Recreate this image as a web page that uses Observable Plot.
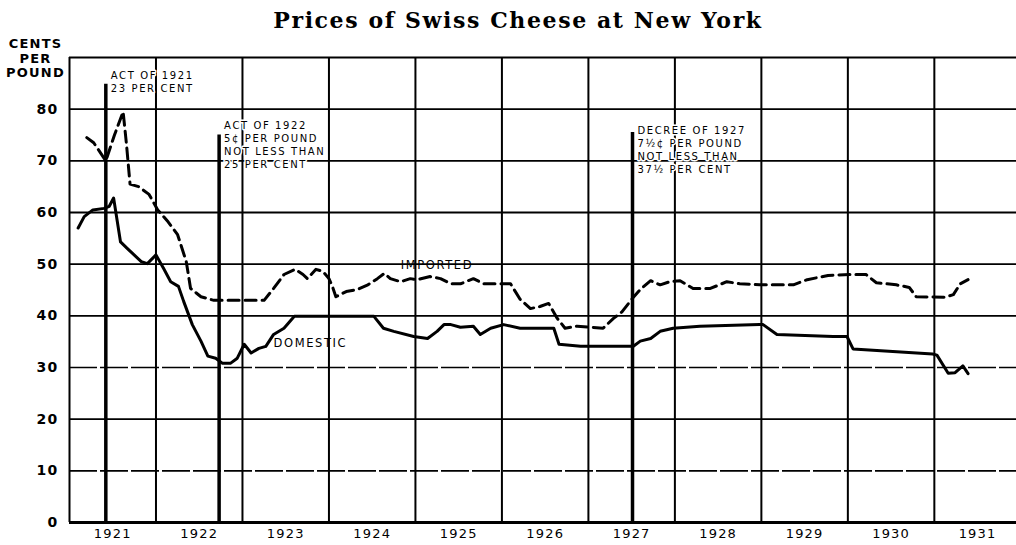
<!DOCTYPE html>
<html><head><meta charset="utf-8">
<script src="https://cdn.jsdelivr.net/npm/d3@7"></script>
<script src="https://cdn.jsdelivr.net/npm/@observablehq/plot@0.6"></script>
<style>
body{margin:0;background:#fff;width:1016px;}
#title{height:32px;line-height:40px;text-align:center;padding-left:20px;font-family:"DejaVu Serif",serif;font-weight:bold;font-size:22px;letter-spacing:1.6px;color:#000;}
#chart svg text{letter-spacing:1.2px;}
#chart svg g.anno text{letter-spacing:1.6px;}
</style></head><body>
<div id="title">Prices of Swiss Cheese at New York</div>
<div id="chart"></div>
<script>
// Year boundaries and labels
const years = [1921,1922,1923,1924,1925,1926,1927,1928,1929,1930,1931];
const yTicks = [0,10,20,30,40,50,60,70,80];
const gridSolid = [20,40,50,60,70,80,90];
const gridDashed = [10,30];

// Imported Swiss cheese (dashed), cents per pound
const importedX = [1921.20,1921.28,1921.42,1921.52,1921.62,1921.66,1921.70,1921.80,1921.92,1922.02,1922.14,1922.25,1922.35,1922.40,1922.52,1922.67,1923.25,1923.36,1923.48,1923.61,1923.70,1923.75,1923.85,1923.93,1924.00,1924.04,1924.08,1924.20,1924.33,1924.45,1924.56,1924.64,1924.71,1924.83,1924.94,1925.02,1925.17,1925.29,1925.41,1925.52,1925.67,1925.79,1926.10,1926.21,1926.33,1926.44,1926.54,1926.64,1926.73,1926.87,1927.17,1927.29,1927.39,1927.51,1927.60,1927.72,1927.83,1927.94,1928.06,1928.21,1928.41,1928.60,1928.75,1928.98,1929.37,1929.53,1929.77,1930.02,1930.21,1930.33,1930.56,1930.71,1930.79,1931.12,1931.22,1931.30,1931.39];
const importedY = [74.5,73.5,70,75,79.5,73,65.5,65,63.5,60.5,58.2,55.7,50.5,45.3,43.7,43,43,45.3,48,49,48,47.2,49,48.6,47.2,45.7,43.7,44.7,45.1,46,47.2,48.2,47.2,46.6,47.2,47,47.6,47.2,46.2,46.2,47.2,46.2,46.2,43.2,41.4,41.8,42.4,39.5,37.6,38,37.6,39.5,40.8,43.4,45.1,46.8,46,46.6,46.8,45.3,45.3,46.6,46.2,46,46,47,47.8,48,48,46.4,46,45.5,43.7,43.6,44.1,46.2,47];

// Domestic Swiss cheese (solid), cents per pound
const domesticX = [1921.10,1921.17,1921.27,1921.40,1921.46,1921.51,1921.59,1921.67,1921.83,1921.90,1922.00,1922.09,1922.17,1922.26,1922.32,1922.42,1922.52,1922.60,1922.69,1922.77,1922.86,1922.94,1923.02,1923.10,1923.19,1923.27,1923.36,1923.48,1923.60,1924.52,1924.63,1924.75,1924.98,1925.14,1925.25,1925.33,1925.41,1925.52,1925.67,1925.75,1925.87,1926.02,1926.21,1926.60,1926.66,1926.91,1927.52,1927.60,1927.72,1927.83,1927.98,1928.29,1928.98,1929.02,1929.18,1929.83,1929.99,1930.06,1930.52,1930.98,1931.03,1931.16,1931.24,1931.33,1931.39];
const domesticY = [57,59.2,60.5,60.8,61.2,62.8,54.3,53,50.5,50.1,51.8,49.1,46.6,45.7,42.8,38.3,35.1,32.2,31.8,30.8,30.8,31.8,34.5,32.8,33.7,34.1,36.4,37.6,39.9,39.9,37.6,37,36,35.6,37,38.3,38.3,37.8,38,36.4,37.6,38.3,37.6,37.6,34.5,34.1,34.1,35.1,35.6,37,37.6,38,38.3,38.3,36.4,36,36,33.6,33.1,32.6,32.4,28.9,29,30.3,28.8];

// Tariff acts
const actX = [1921.42, 1922.73, 1927.51];
const actTop = [84.8, 75, 75.5];
const actLabelTop = [87.6, 77.9, 76.9];
const actLabels = ["ACT OF 1921\n23 PER CENT", "ACT OF 1922\n5¢ PER POUND\nNOT LESS THAN\n25 PER CENT", "DECREE OF 1927\n7½¢ PER POUND\nNOT LESS THAN\n37½ PER CENT"];

// Series labels
const seriesNames = ["IMPORTED", "DOMESTIC"];
const seriesLabelX = [1924.83, 1923.36];
const seriesLabelY = [49.7, 34.7];

const imported = importedX.map((x, i) => ({x, y: importedY[i]}));
const domestic = domesticX.map((x, i) => ({x, y: domesticY[i]}));
const acts = actX.map((x, i) => ({x, top: actTop[i], ly: actLabelTop[i], label: actLabels[i]}));
const seriesLabels = seriesNames.map((t, i) => ({t, x: seriesLabelX[i], y: seriesLabelY[i]}));

const chart = Plot.plot({
  width: 1016, height: 513,
  marginTop: 25, marginBottom: 23, marginLeft: 69, marginRight: 0,
  x: {domain: [1921, 1931.95]},
  y: {domain: [0, 90]},
  style: {fontFamily: "DejaVu Sans, sans-serif", color: "#000", background: "#fff", overflow: "visible"},
  marks: [
    Plot.ruleY(gridSolid, {stroke: "#000", strokeWidth: 1.8}),
    Plot.ruleY(gridDashed, {stroke: "#000", strokeWidth: 1.6, strokeDasharray: "28,3"}),
    Plot.ruleY([0], {stroke: "#000", strokeWidth: 3}),
    Plot.ruleX(years, {y1: 0, y2: 90, stroke: "#000", strokeWidth: 2}),
    Plot.text(acts, {x: "x", y: "ly", text: "label", textAnchor: "start", lineAnchor: "top", dx: 5, fontSize: 10, lineHeight: 1.28, fill: "#000", stroke: "#fff", strokeWidth: 3, paintOrder: "stroke", className: "anno"}),
    Plot.ruleX(acts, {x: "x", y1: 0, y2: "top", stroke: "#000", strokeWidth: 3.5}),
    Plot.line(imported, {x: "x", y: "y", stroke: "#000", strokeWidth: 3, strokeDasharray: "11,6"}),
    Plot.line(domestic, {x: "x", y: "y", stroke: "#000", strokeWidth: 3}),
    Plot.text(seriesLabels, {x: "x", y: "y", text: "t", textAnchor: "start", fontSize: 11.5, fill: "#000", className: "anno"}),
    Plot.axisY(yTicks, {tickSize: 0, tickPadding: 11, fontSize: 14, fontWeight: "bold"}),
    Plot.axisX(years.map(y => y + 0.5), {tickSize: 0, tickPadding: 6, fontSize: 13, tickFormat: d => String(Math.floor(d)), label: null}),
    Plot.text(["CENTS\nPER\nPOUND"], {frameAnchor: "top-left", dx: -34, dy: -19, textAnchor: "middle", lineAnchor: "top", fontSize: 13, fontWeight: "bold", lineHeight: 1.08, fill: "#000"})
  ]
});
document.getElementById("chart").appendChild(chart);
</script>
</body></html>
